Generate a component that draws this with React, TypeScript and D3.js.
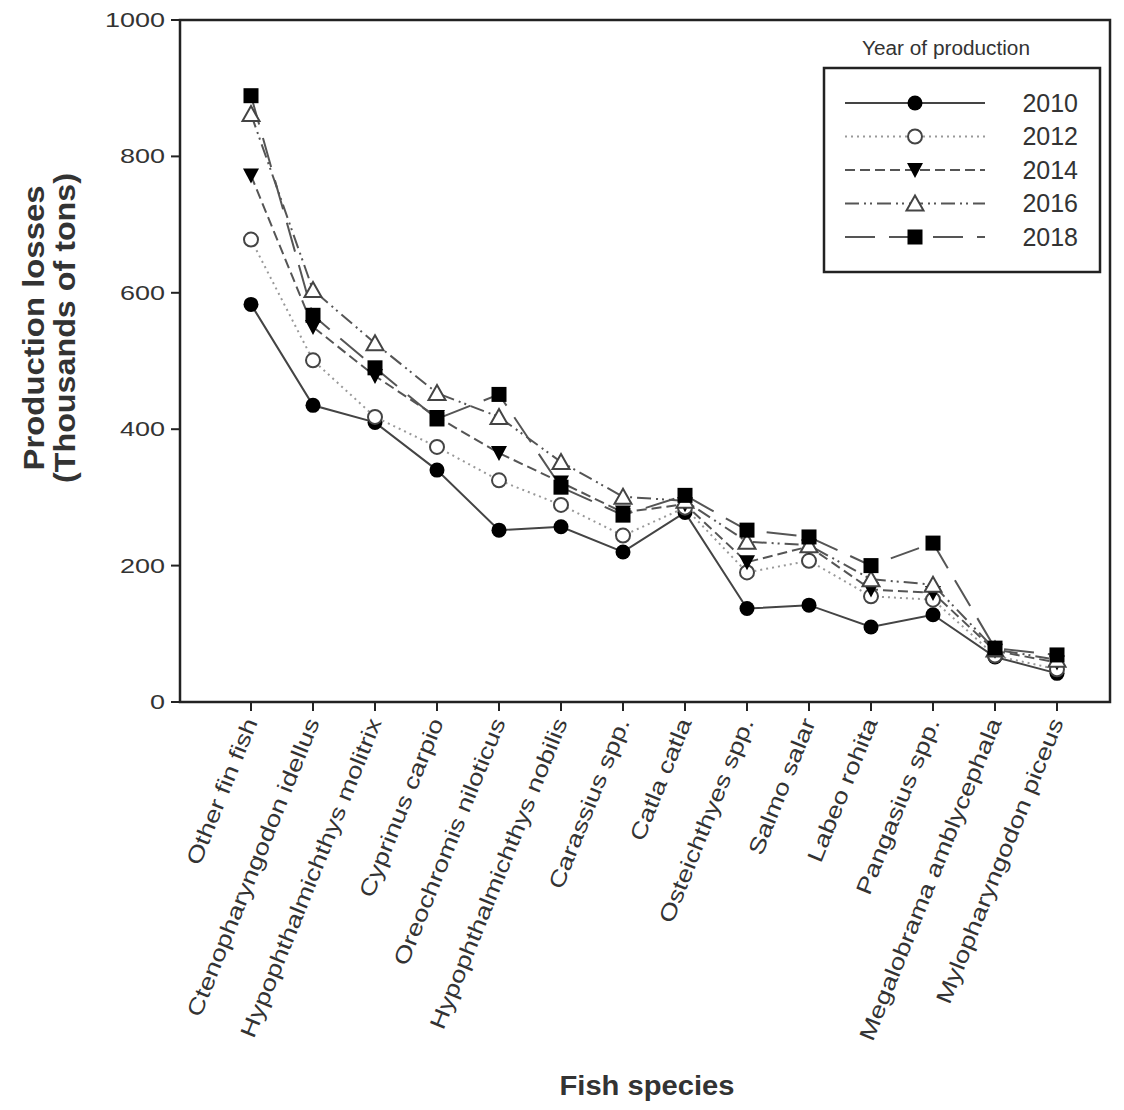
import React from 'react';
import { scaleLinear, scalePoint, line } from 'd3';

const species = [
  'Other fin fish',
  'Ctenopharyngodon idellus',
  'Hypophthalmichthys molitrix',
  'Cyprinus carpio',
  'Oreochromis niloticus',
  'Hypophthalmichthys nobilis',
  'Carassius spp.',
  'Catla catla',
  'Osteichthyes spp.',
  'Salmo salar',
  'Labeo rohita',
  'Pangasius spp.',
  'Megalobrama amblycephala',
  'Mylopharyngodon piceus',
];

const years = ['2010', '2012', '2014', '2016', '2018'];

const loss2010 = [583, 435, 410, 340, 252, 257, 220, 278, 137, 142, 110, 128, 66, 42];
const loss2012 = [678, 501, 418, 374, 325, 289, 244, 285, 190, 207, 155, 150, 68, 48];
const loss2014 = [772, 550, 478, 418, 365, 322, 278, 290, 205, 228, 165, 160, 75, 58];
const loss2016 = [862, 604, 526, 453, 418, 352, 301, 295, 235, 230, 180, 172, 77, 62];
const loss2018 = [889, 567, 490, 415, 451, 315, 274, 303, 252, 242, 200, 233, 79, 69];

const yTicks = [0, 200, 400, 600, 800, 1000];

const series = [loss2010, loss2012, loss2014, loss2016, loss2018];
const dashes = ['none', '2,4', '10,5', '14,5,2,4,2,5', '30,14'];
const lineColor = ['#444', '#999', '#555', '#555', '#555'];

const W = 1124;
const H = 1110;
const frame = { left: 180, right: 1110, top: 20, bottom: 702 };
const font = '"Liberation Sans", Arial, sans-serif';

const Marker = ({ kind, x, y }: { kind: number; x: number; y: number }) => {
  if (kind === 0) return <circle cx={x} cy={y} r={7.5} fill="#000" />;
  if (kind === 1)
    return <circle cx={x} cy={y} r={7} fill="#fff" stroke="#444" strokeWidth={2} />;
  if (kind === 2)
    return <path d={`M${x - 8},${y - 7}L${x + 8},${y - 7}L${x},${y + 8}Z`} fill="#000" />;
  if (kind === 3)
    return (
      <path
        d={`M${x},${y - 8}L${x + 8.5},${y + 7}L${x - 8.5},${y + 7}Z`}
        fill="#fff"
        stroke="#444"
        strokeWidth={2}
      />
    );
  return <rect x={x - 7.5} y={y - 7.5} width={15} height={15} fill="#000" />;
};

const App = () => {
  const x = scalePoint<string>().domain(species).range([251, 1057]);
  const y = scaleLinear().domain([0, 1000]).range([frame.bottom, frame.top]);

  const path = line<number>()
    .x((d, i) => x(species[i]) as number)
    .y((d) => y(d));

  const legendRows = years.map((yr, i) => 103 + i * 33.5);

  return (
    <svg
      width={W}
      height={H}
      style={{ position: 'absolute', left: 0, top: 0, background: '#fff' }}
      fontFamily={font}
    >
      {/* frame */}
      <rect
        x={frame.left}
        y={frame.top}
        width={frame.right - frame.left}
        height={frame.bottom - frame.top}
        fill="none"
        stroke="#222"
        strokeWidth={2.5}
      />

      {/* y axis */}
      {yTicks.map((t) => (
        <g key={t}>
          <line x1={frame.left - 9} x2={frame.left} y1={y(t)} y2={y(t)} stroke="#222" strokeWidth={2} />
          <text
            transform={`translate(${frame.left - 15},${y(t)}) scale(1.35,1)`}
            dy="0.35em"
            textAnchor="end"
            fontSize={20}
            fill="#333"
          >
            {t}
          </text>
        </g>
      ))}

      {/* x axis */}
      {species.map((s) => (
        <g key={s}>
          <line
            x1={x(s)}
            x2={x(s)}
            y1={frame.bottom}
            y2={frame.bottom + 9}
            stroke="#222"
            strokeWidth={2}
          />
          <text
            transform={`translate(${(x(s) as number) + 7},${frame.bottom + 20}) rotate(-68) scale(1.25,1)`}
            textAnchor="end"
            fontSize={22}
            fill="#333"
          >
            {s}
          </text>
        </g>
      ))}

      {/* lines */}
      {series.map((vals, k) => (
        <path
          key={years[k]}
          d={path(vals) as string}
          fill="none"
          stroke={lineColor[k]}
          strokeWidth={2}
          strokeDasharray={dashes[k]}
        />
      ))}
      {series.map((vals, k) =>
        vals.map((v, i) => <Marker key={years[k] + i} kind={k} x={x(species[i]) as number} y={y(v)} />)
      )}

      {/* legend */}
      <text
        x={862}
        y={55}
        fontSize={20}
        fill="#333"
        textLength={168}
        lengthAdjust="spacingAndGlyphs"
      >
        Year of production
      </text>
      <rect x={824} y={68} width={276} height={204} fill="#fff" stroke="#222" strokeWidth={2.5} />
      {years.map((yr, k) => (
        <g key={yr}>
          <line
            x1={845}
            x2={985}
            y1={legendRows[k]}
            y2={legendRows[k]}
            stroke={lineColor[k]}
            strokeWidth={2}
            strokeDasharray={dashes[k]}
          />
          <Marker kind={k} x={915} y={legendRows[k]} />
          <text x={1078} y={legendRows[k]} dy="0.35em" textAnchor="end" fontSize={25} fill="#333">
            {yr}
          </text>
        </g>
      ))}

      {/* axis titles */}
      <text
        transform="translate(44,328) rotate(-90)"
        textAnchor="middle"
        fontSize={29}
        fontWeight="bold"
        fill="#333"
        textLength={285}
        lengthAdjust="spacingAndGlyphs"
      >
        Production losses
      </text>
      <text
        transform="translate(75,328) rotate(-90)"
        textAnchor="middle"
        fontSize={29}
        fontWeight="bold"
        fill="#333"
        textLength={310}
        lengthAdjust="spacingAndGlyphs"
      >
        (Thousands of tons)
      </text>
      <text
        x={647}
        y={1095}
        textAnchor="middle"
        fontSize={28}
        fontWeight="bold"
        fill="#333"
        textLength={175}
        lengthAdjust="spacingAndGlyphs"
      >
        Fish species
      </text>
    </svg>
  );
};

export default App;
